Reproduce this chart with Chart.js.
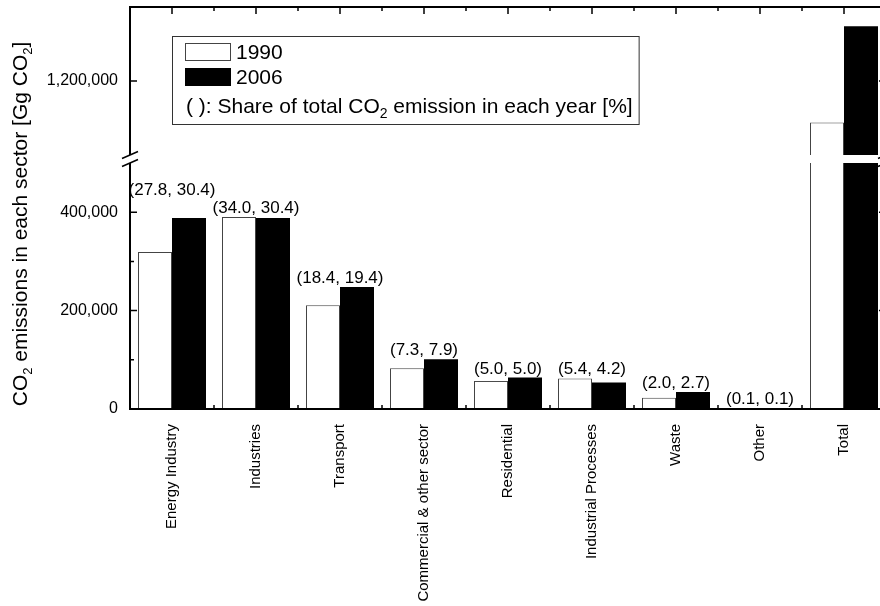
<!DOCTYPE html>
<html>
<head>
<meta charset="utf-8">
<title>CO2 emissions by sector, 1990 and 2006</title>
<script src="https://cdn.jsdelivr.net/npm/chart.js@4/dist/chart.umd.min.js"></script>
<style>
  html, body { margin: 0; padding: 0; background: #fff; overflow: hidden; }
  canvas { display: block; }
</style>
</head>
<body>
<canvas id="chart" width="890" height="606"></canvas>
<script>
// ---- data ----
const sectors = ['Energy Industry', 'Industries', 'Transport', 'Commercial & other sector',
                 'Residential', 'Industrial Processes', 'Waste', 'Other', 'Total'];
const seriesNames = ['1990', '2006'];
// emissions in Gg CO2
const emissions1990 = [319000, 390000, 211000, 83000, 57000, 62000, 23000, 1200, 1144000];
const emissions2006 = [388000, 388000, 248000, 101000, 64000, 54000, 34500, 1300, 1274000];
// share of total CO2 emission in each year [%]
const share1990 = [27.8, 34.0, 18.4, 7.3, 5.0, 5.4, 2.0, 0.1];
const share2006 = [30.4, 30.4, 19.4, 7.9, 5.0, 4.2, 2.7, 0.1];
// broken value axis: lower and upper segments
const lowerRange = [0, 500000];
const upperRange = [1100000, 1300000];
const lowerTicks = [0, 200000, 400000];
const lowerMinorTicks = [100000, 300000];
const upperTicks = [1200000];

const FONT = "'Liberation Sans', Arial, Helvetica, sans-serif";

// split each value across the two axis segments
const lowPart = v => Math.min(v, lowerRange[1]);
const highPart = v => (v > upperRange[0] ? v : null);
const cutBorder = values => ctx =>
  values[ctx.dataIndex] > lowerRange[1] ? { left: 1, right: 1, top: 0, bottom: 0 } : 1;

function drawRich(ctx, parts, x, y, size, subSize, subDrop) {
  let cx = x;
  ctx.textAlign = 'left';
  for (const p of parts) {
    ctx.font = `${p.sub ? subSize : size}px ${FONT}`;
    ctx.fillText(p.t, cx, y + (p.sub ? subDrop : 0));
    cx += ctx.measureText(p.t).width;
  }
  return cx - x;
}
function richWidth(ctx, parts, size, subSize) {
  let w = 0;
  for (const p of parts) {
    ctx.font = `${p.sub ? subSize : size}px ${FONT}`;
    w += ctx.measureText(p.t).width;
  }
  return w;
}

// frame, inward ticks, axis break marks, axis title and legend
const decorations = {
  id: 'decorations',
  afterDatasetsDraw(chart) {
    const ctx = chart.ctx;
    const { left, right, top, bottom } = chart.chartArea;
    const x = chart.scales.x, yLow = chart.scales.yLow, yHigh = chart.scales.yHigh;
    const yGap = chart.scales.yGap;
    ctx.save();
    ctx.strokeStyle = '#000';
    ctx.lineCap = 'butt';

    // gap across the bars between the two segments
    ctx.fillStyle = '#fff';
    ctx.fillRect(left + 2, yGap.top, right - left - 4, yGap.bottom - yGap.top);

    // frame: broken left and right axes, top and bottom lines
    ctx.lineWidth = 2;
    ctx.beginPath();
    for (const s of [yHigh, yLow]) {
      for (const ax of [left, right]) {
        ctx.moveTo(ax, s.top);
        ctx.lineTo(ax, s.bottom);
      }
    }
    ctx.moveTo(left - 1, top); ctx.lineTo(right + 1, top);
    ctx.moveTo(left - 1, bottom); ctx.lineTo(right + 1, bottom);
    ctx.stroke();

    // break marks on both vertical axes
    ctx.lineWidth = 1.5;
    ctx.beginPath();
    for (const ax of [left, right]) {
      for (const yy of [yGap.top, yGap.bottom]) {
        ctx.moveTo(ax - 8, yy + 3.5);
        ctx.lineTo(ax + 8, yy - 3.5);
      }
    }
    ctx.stroke();

    // value-axis ticks, pointing inwards on both sides
    ctx.lineWidth = 1.5;
    ctx.beginPath();
    const yTick = (py, len) => {
      ctx.moveTo(left, py); ctx.lineTo(left + len, py);
      ctx.moveTo(right, py); ctx.lineTo(right - len, py);
    };
    lowerTicks.forEach(v => yTick(yLow.getPixelForValue(v), 7));
    lowerMinorTicks.forEach(v => yTick(yLow.getPixelForValue(v), 4));
    upperTicks.forEach(v => yTick(yHigh.getPixelForValue(v), 7));

    // category ticks: centres (long) and boundaries (short) on top, boundaries at bottom
    const step = x.width / sectors.length;
    sectors.forEach((_, i) => {
      const c = x.getPixelForValue(i);
      ctx.moveTo(c, top); ctx.lineTo(c, top + 7);
      const b = c + step / 2;
      if (b < right - 1) {
        ctx.moveTo(b, top); ctx.lineTo(b, top + 4);
        ctx.moveTo(b, bottom); ctx.lineTo(b, bottom - 4);
      }
    });
    ctx.stroke();

    // share labels above each pair of bars
    const m90 = chart.getDatasetMeta(0), m06 = chart.getDatasetMeta(2);
    ctx.font = `17px ${FONT}`;
    const labels = share1990.map((s, i) => {
      const b1 = m90.data[i], b2 = m06.data[i];
      const text = `(${s.toFixed(1)}, ${share2006[i].toFixed(1)})`;
      return { text, x: (b1.x + b2.x) / 2, w: ctx.measureText(text).width,
               base: Math.min(b1.y, b2.y) - 4 };
    });
    const asc = 13, desc = 3, gap = 2;
    for (let i = labels.length - 2; i >= 0; i--) {
      const a = labels[i], b = labels[i + 1];
      const hOverlap = a.x + a.w / 2 + 2 > b.x - b.w / 2 - 2;
      const vOverlap = a.base + desc > b.base - asc;
      if (hOverlap && vOverlap) a.base = b.base - asc - gap - desc;
    }
    ctx.fillStyle = '#000';
    ctx.textAlign = 'center';
    ctx.textBaseline = 'alphabetic';
    labels.forEach(l => ctx.fillText(l.text, l.x, l.base));

    // value-axis title with subscripts
    const titleParts = [{ t: 'CO' }, { t: '2', sub: true },
      { t: ' emissions in each sector [Gg CO' }, { t: '2', sub: true }, { t: ']' }];
    ctx.save();
    ctx.translate(27, 224);
    ctx.rotate(-Math.PI / 2);
    ctx.textBaseline = 'alphabetic';
    const tw = richWidth(ctx, titleParts, 21, 13);
    drawRich(ctx, titleParts, -tw / 2, 0, 21, 13, 5);
    ctx.restore();

    // legend
    const ds = chart.data.datasets;
    const lx = 172, ly = 36, lh = 88;
    const noteParts = [{ t: '( ): Share of total CO' }, { t: '2', sub: true },
      { t: ' emission in each year [%]' }];
    const noteW = richWidth(ctx, noteParts, 21, 14);
    const lw = (186 - lx) + noteW + 6;
    ctx.fillStyle = '#fff';
    ctx.fillRect(lx, ly, lw, lh);
    ctx.lineWidth = 1;
    ctx.strokeStyle = '#333';
    ctx.strokeRect(lx + 0.5, ly + 0.5, lw, lh);
    const rows = [{ d: ds[0], y: 43.5, base: 59 }, { d: ds[2], y: 68.5, base: 84 }];
    rows.forEach(r => {
      ctx.fillStyle = r.d.backgroundColor;
      ctx.fillRect(185, r.y, 45, 17);
      ctx.strokeStyle = r.d.borderColor;
      ctx.lineWidth = 1;
      ctx.strokeRect(185.5, r.y, 45, 17);
      ctx.fillStyle = '#000';
      ctx.font = `21px ${FONT}`;
      ctx.textAlign = 'left';
      ctx.fillText(r.d.label, 236, r.base);
    });
    ctx.fillStyle = '#000';
    drawRich(ctx, noteParts, 186, 113, 21, 14, 5);
    ctx.restore();
  }
};

const tickFont = { family: FONT, size: 16 };
const valueAxis = (range, ticks, weight) => ({
  type: 'linear',
  position: 'left',
  stack: 'value',
  stackWeight: weight,
  stacked: false,
  min: range[0],
  max: range[1],
  afterBuildTicks(s) { s.ticks = ticks.map(v => ({ value: v })); },
  afterFit(s) { s.width = 130; s.paddingTop = 0; s.paddingBottom = 0; },
  grid: { display: false, drawTicks: false },
  border: { display: false },
  ticks: { color: '#000', font: tickFont, padding: 12,
           callback: v => Number(v).toLocaleString('en-US') }
});

new Chart(document.getElementById('chart'), {
  type: 'bar',
  data: {
    labels: sectors,
    datasets: [
      { label: seriesNames[0], data: emissions1990.map(lowPart), yAxisID: 'yLow', stack: 's1990',
        backgroundColor: '#fff', borderColor: '#444', borderWidth: cutBorder(emissions1990) },
      { label: seriesNames[0], data: emissions1990.map(highPart), yAxisID: 'yHigh', stack: 's1990',
        backgroundColor: '#fff', borderColor: '#444', borderWidth: 1 },
      { label: seriesNames[1], data: emissions2006.map(lowPart), yAxisID: 'yLow', stack: 's2006',
        backgroundColor: '#000', borderColor: '#000', borderWidth: 0 },
      { label: seriesNames[1], data: emissions2006.map(highPart), yAxisID: 'yHigh', stack: 's2006',
        backgroundColor: '#000', borderColor: '#000', borderWidth: 0 }
    ]
  },
  options: {
    responsive: false,
    animation: false,
    devicePixelRatio: 1,
    layout: { padding: { top: 7, right: 4, left: 0, bottom: 0 } },
    datasets: { bar: { categoryPercentage: 68 / 84, barPercentage: 1.0 } },
    plugins: { legend: { display: false }, tooltip: { enabled: false } },
    scales: {
      x: {
        type: 'category',
        offset: true,
        grid: { display: false, drawTicks: false },
        border: { display: false },
        afterFit(s) { s.height = 197; s.paddingLeft = 0; s.paddingRight = 0; },
        ticks: { color: '#000', font: { family: FONT, size: 15 }, padding: 15,
                 minRotation: 90, maxRotation: 90, autoSkip: false }
      },
      // stacked value scales, listed bottom segment first
      yLow: valueAxis(lowerRange, lowerTicks, 246),
      yGap: {
        type: 'linear', position: 'left', stack: 'value', stackWeight: 8, min: 0, max: 1,
        afterFit(s) { s.width = 130; s.paddingTop = 0; s.paddingBottom = 0; },
        grid: { display: false, drawTicks: false }, border: { display: false },
        ticks: { display: false }
      },
      yHigh: valueAxis(upperRange, upperTicks, 148)
    }
  },
  plugins: [decorations]
});
</script>
</body>
</html>
